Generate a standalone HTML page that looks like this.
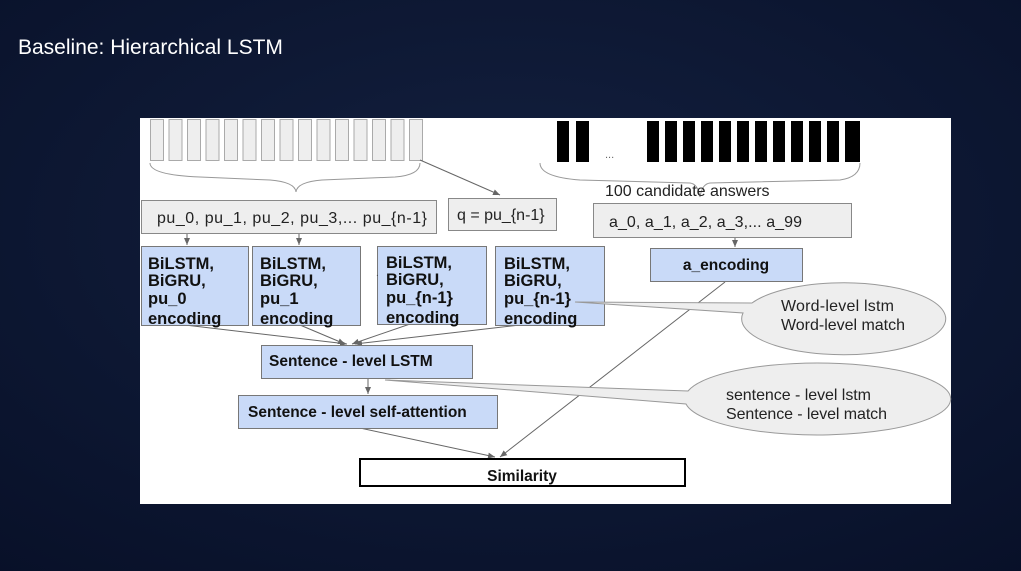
<!DOCTYPE html>
<html><head><style>
body{margin:0;width:1021px;height:571px;overflow:hidden;background:#0b1531;}
svg{position:absolute;left:0;top:0}
text{font-family:"Liberation Sans",sans-serif}
</style></head><body>
<svg width="1021" height="571" viewBox="0 0 1021 571">
<defs>
<radialGradient id="bg" cx="0.5" cy="0.4" r="0.8"><stop offset="0" stop-color="#13203f"/><stop offset="1" stop-color="#081028"/></radialGradient>
<marker id="ar" markerWidth="8" markerHeight="8" refX="7" refY="4" orient="auto" markerUnits="userSpaceOnUse"><path d="M0,1 L7,4 L0,7 z" fill="#666"/></marker>
</defs>
<rect width="1021" height="571" fill="url(#bg)"/>
<text x="18" y="54" font-size="21" fill="#fff">Baseline: Hierarchical LSTM</text>
<rect x="140" y="118" width="811" height="386" fill="#fff"/>
<g fill="#eee" stroke="#aaa" stroke-width="1">
<rect x="150.5" y="119.5" width="13" height="41"/><rect x="169" y="119.5" width="13" height="41"/><rect x="187.5" y="119.5" width="13" height="41"/><rect x="206" y="119.5" width="13" height="41"/><rect x="224.5" y="119.5" width="13" height="41"/><rect x="243" y="119.5" width="13" height="41"/><rect x="261.5" y="119.5" width="13" height="41"/><rect x="280" y="119.5" width="13" height="41"/><rect x="298.5" y="119.5" width="13" height="41"/><rect x="317" y="119.5" width="13" height="41"/><rect x="335.5" y="119.5" width="13" height="41"/><rect x="354" y="119.5" width="13" height="41"/><rect x="372.5" y="119.5" width="13" height="41"/><rect x="391" y="119.5" width="13" height="41"/><rect x="409.5" y="119.5" width="13" height="41"/>
</g>
<g fill="#000">
<rect x="557" y="121" width="12" height="41"/><rect x="576" y="121" width="13" height="41"/>
<rect x="647" y="121" width="12" height="41"/><rect x="665" y="121" width="12" height="41"/><rect x="683" y="121" width="12" height="41"/><rect x="701" y="121" width="12" height="41"/><rect x="719" y="121" width="12" height="41"/><rect x="737" y="121" width="12" height="41"/><rect x="755" y="121" width="12" height="41"/><rect x="773" y="121" width="12" height="41"/><rect x="791" y="121" width="12" height="41"/><rect x="809" y="121" width="12" height="41"/><rect x="827" y="121" width="12" height="41"/><rect x="845" y="121" width="15" height="41"/>
</g>
<text x="605" y="158" font-size="11" fill="#666">...</text>
<g fill="none" stroke="#999" stroke-width="1">
<path d="M150,163 Q150,175 200,177 L270,180 Q295,182 296,192 Q297,182 322,180 L395,177 Q420,175 420,163"/>
<path d="M540,163 Q540,177 580,180 L690,183 Q698,184 700,197 Q702,184 710,183 L840,180 Q860,177 860,163"/>
</g>
<g stroke="#666" stroke-width="1" fill="none" marker-end="url(#ar)">
<line x1="420" y1="160" x2="500" y2="195"/>
<line x1="187" y1="234" x2="187" y2="245"/>
<line x1="299" y1="234" x2="299" y2="245"/>
<line x1="735" y1="237" x2="735" y2="247"/>
<line x1="185" y1="325" x2="347" y2="344"/>
<line x1="300" y1="325" x2="345" y2="344"/>
<line x1="410" y1="324" x2="352" y2="344"/>
<line x1="520" y1="325" x2="355" y2="344"/>
<line x1="368" y1="378" x2="368" y2="394"/>
<line x1="360" y1="428" x2="495" y2="457"/>
<line x1="725" y1="282" x2="500" y2="457"/>
</g>
<text x="605" y="196" font-size="16" fill="#222">100 candidate answers</text>
<g fill="#eee" stroke="#888" stroke-width="1">
<rect x="141.5" y="200.5" width="295" height="33"/>
<rect x="448.5" y="198.5" width="108" height="32"/>
<rect x="593.5" y="203.5" width="258" height="34"/>
</g>
<g font-size="16" fill="#222">
<text x="157" y="223" textLength="270" lengthAdjust="spacing">pu_0,  pu_1, pu_2, pu_3,... pu_{n-1}</text>
<text x="457" y="220">q = pu_{n-1}</text>
<text x="609" y="227" textLength="193" lengthAdjust="spacing">a_0,  a_1, a_2, a_3,... a_99</text>
</g>
<g fill="#c9daf8" stroke="#777" stroke-width="1">
<rect x="141.5" y="246.5" width="107" height="79"/>
<rect x="252.5" y="246.5" width="108" height="79"/>
<rect x="377.5" y="246.5" width="109" height="78"/>
<rect x="495.5" y="246.5" width="109" height="79"/>
<rect x="650.5" y="248.5" width="152" height="33"/>
<rect x="261.5" y="345.5" width="211" height="33"/>
<rect x="238.5" y="395.5" width="259" height="33"/>
</g>
<g font-size="16.5" font-weight="bold" fill="#111">
<text x="148" y="269">BiLSTM,</text><text x="148" y="286">BiGRU,</text><text x="148" y="304">pu_0</text><text x="148" y="324">encoding</text>
<text x="260" y="269">BiLSTM,</text><text x="260" y="286">BiGRU,</text><text x="260" y="304">pu_1</text><text x="260" y="324">encoding</text>
<text x="386" y="268">BiLSTM,</text><text x="386" y="285">BiGRU,</text><text x="386" y="303">pu_{n-1}</text><text x="386" y="323">encoding</text>
<text x="504" y="269">BiLSTM,</text><text x="504" y="286">BiGRU,</text><text x="504" y="304">pu_{n-1}</text><text x="504" y="324">encoding</text>
</g>
<g font-size="15.5" font-weight="bold" fill="#111">
<text x="726" y="270" text-anchor="middle">a_encoding</text>
<text x="269" y="366">Sentence - level LSTM</text>
<text x="248" y="417">Sentence - level self-attention</text>
</g>
<text x="376" y="276" font-size="10" fill="#444">.</text>
<rect x="360" y="459" width="325" height="27" fill="#fff" stroke="#000" stroke-width="2"/>
<text x="522" y="481" text-anchor="middle" font-size="15.5" font-weight="bold" fill="#111">Similarity</text>
<g fill="#eee" stroke="#999" stroke-width="1">
<path d="M575,302 L752,303 A102,36 0 1 1 743,313 Z"/>
<path d="M385,380 L688,391 A133,36 0 1 1 686,404 Z"/>
</g>
<g font-size="16" fill="#222">
<text x="781" y="311" textLength="113" lengthAdjust="spacing">Word-level lstm</text><text x="781" y="330" textLength="124" lengthAdjust="spacing">Word-level match</text>
<text x="726" y="400" textLength="145" lengthAdjust="spacing">sentence - level lstm</text><text x="726" y="419" textLength="161" lengthAdjust="spacing">Sentence - level match</text>
</g>
</svg>
</body></html>
